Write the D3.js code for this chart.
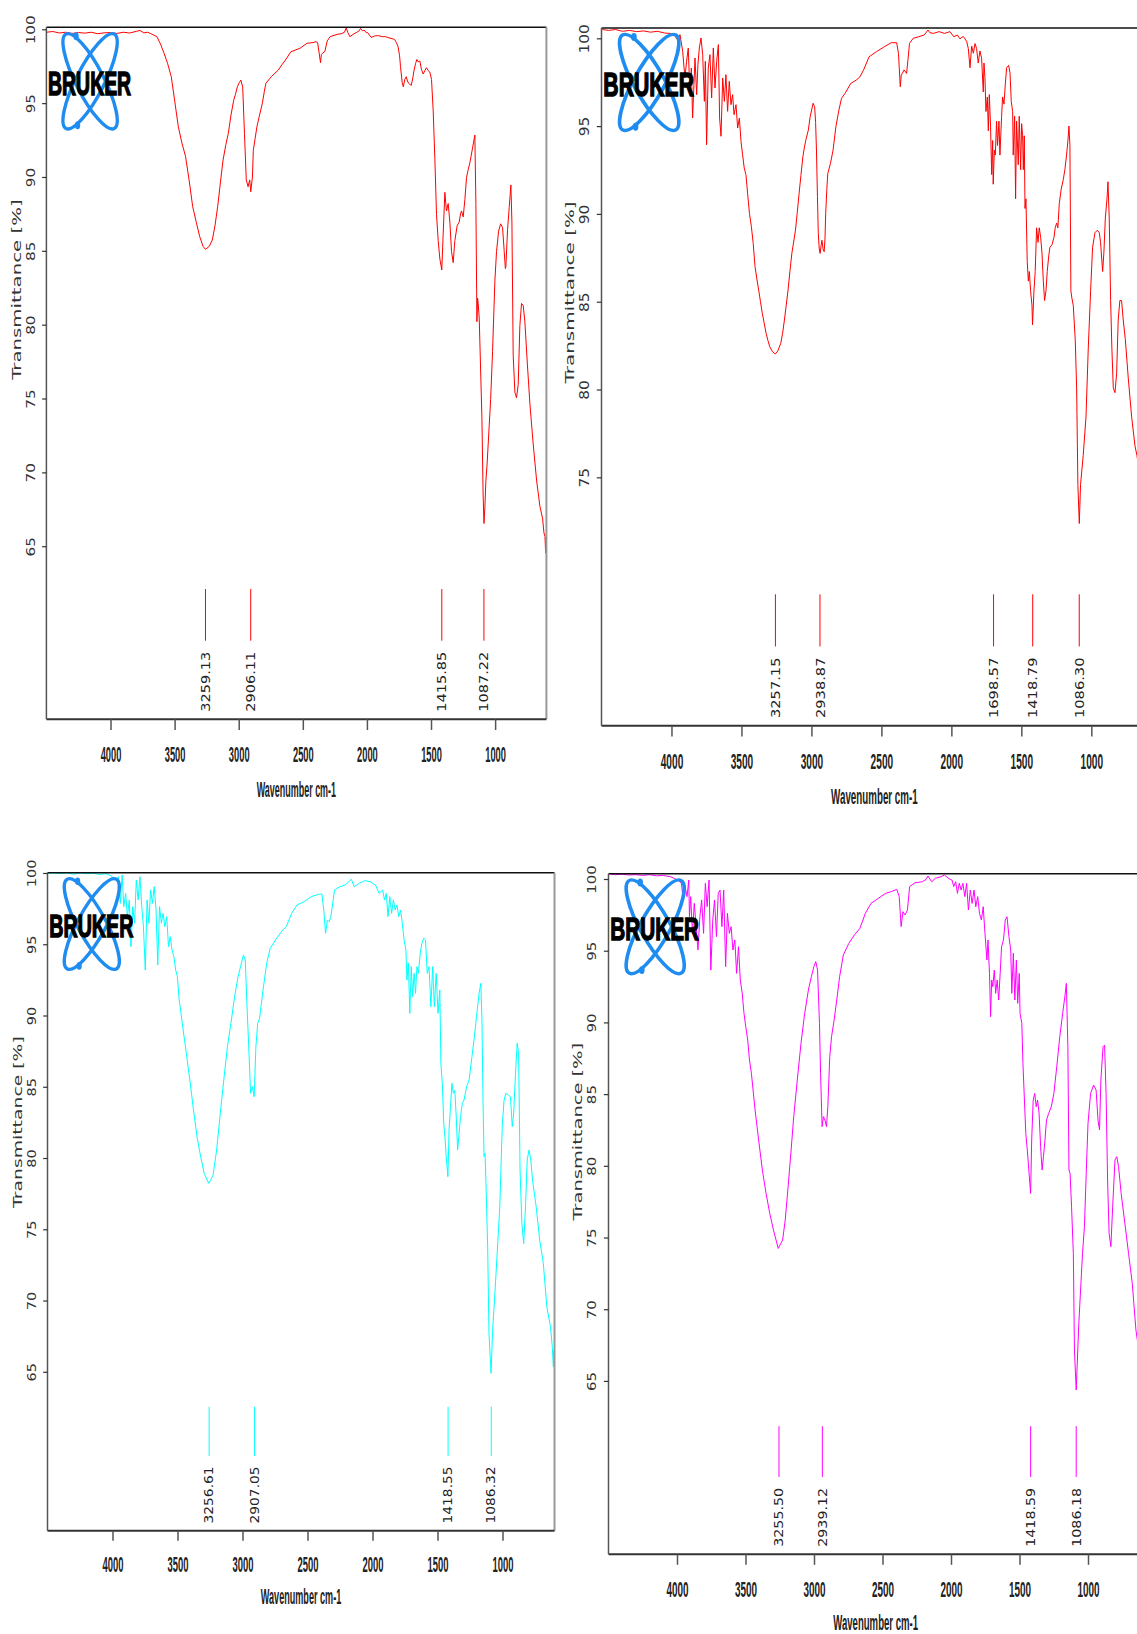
<!DOCTYPE html>
<html><head><meta charset="utf-8">
<script src="https://cdn.jsdelivr.net/npm/d3@7"></script>
<style>body{margin:0;background:#fff;} svg{display:block;}</style>
</head><body>
<svg id="chart" width="1137" height="1634"></svg>
<script>
// ---------- data ----------
const xTickValues = [4000, 3500, 3000, 2500, 2000, 1500, 1000];
const yTicksLow = [65, 70, 75, 80, 85, 90, 95, 100];
const yTicksHigh = [75, 80, 85, 90, 95, 100];
const xLabel = "Wavenumber cm-1";
const yLabel = "Transmittance [%]";
const logoText = "BRUKER";

const peaksA = [3259.13, 2906.11, 1415.85, 1087.22];
const peaksB = [3257.15, 2938.87, 1698.57, 1418.79, 1086.30];
const peaksC = [3256.61, 2907.05, 1418.55, 1086.32];
const peaksD = [3255.50, 2939.12, 1418.59, 1086.18];

const spectrumA = [[4500,99.8],[4450,99.85],[4400,99.75],[4350,99.8],[4300,99.72],[4250,99.78],[4200,99.74],[4150,99.8],[4100,99.7],[4050,99.76],[4000,99.78],[3950,99.72],[3900,99.8],[3850,99.75],[3800,99.86],[3770,99.92],[3740,99.76],[3710,99.8],[3690,99.72],[3660,99.6],[3638,99.5],[3610,99.0],[3582,98.37],[3555,97.7],[3526,96.79],[3500,95.2],[3471,93.4],[3443,92.3],[3415,91.4],[3387,89.8],[3359,88.0],[3330,86.9],[3304,85.96],[3278,85.3],[3259,85.1],[3230,85.3],[3206,85.73],[3185,86.7],[3164,88.0],[3143,89.6],[3122,91.15],[3100,92.2],[3081,92.95],[3060,94.2],[3039,95.2],[3025,95.6],[3011,96.1],[2995,96.4],[2983,96.56],[2969,96.1],[2955,92.95],[2941,89.8],[2927,89.34],[2920,89.6],[2914,89.8],[2906,89.0],[2893,90.0],[2886,91.8],[2872,92.6],[2858,93.4],[2840,94.1],[2816,94.98],[2800,95.8],[2788,96.34],[2746,96.79],[2691,97.24],[2663,97.6],[2635,97.92],[2593,98.48],[2523,98.71],[2468,99.05],[2420,99.1],[2398,99.16],[2385,99.1],[2376,98.6],[2362,97.74],[2355,98.3],[2348,98.37],[2328,98.5],[2310,99.2],[2287,99.5],[2231,99.66],[2200,99.7],[2175,99.8],[2161,100.1],[2150,99.8],[2133,99.5],[2100,99.7],[2078,99.8],[2060,99.9],[2050,100.06],[2035,99.9],[2022,99.95],[2008,99.8],[1994,99.77],[1980,99.6],[1966,99.45],[1940,99.55],[1911,99.57],[1880,99.5],[1855,99.5],[1820,99.4],[1785,99.32],[1770,99.1],[1757,98.82],[1745,98.2],[1738,97.47],[1725,96.4],[1716,96.11],[1705,96.6],[1693,96.79],[1684,96.5],[1674,96.34],[1654,96.2],[1640,96.8],[1632,97.24],[1620,97.7],[1610,97.96],[1600,97.8],[1587,97.85],[1575,97.3],[1561,96.97],[1548,97.2],[1535,97.4],[1522,97.2],[1509,97.1],[1496,96.6],[1483,94.47],[1470,91.2],[1457,87.45],[1444,85.7],[1431,84.45],[1416,83.7],[1405,86.2],[1392,88.96],[1385,88.2],[1379,87.7],[1366,88.2],[1353,86.95],[1340,84.95],[1327,84.2],[1314,85.7],[1296,86.7],[1280,86.95],[1270,87.5],[1262,87.7],[1249,87.3],[1236,88.46],[1223,89.96],[1210,90.5],[1197,90.96],[1176,91.96],[1165,92.5],[1158,92.84],[1150,88.2],[1142,80.2],[1137,81.8],[1132,81.44],[1124,80.44],[1113,76.93],[1103,73.67],[1094,68.67],[1087,66.54],[1080,67.6],[1072,69.42],[1063,70.5],[1054,71.92],[1035,74.93],[1020,78.18],[1002,82.94],[989,84.95],[973,86.33],[957,86.83],[942,86.58],[929,84.95],[920,83.8],[916,83.95],[903,86.45],[890,87.95],[877,89.46],[869,86.95],[859,77.93],[846,75.43],[833,75.05],[820,75.93],[807,79.94],[794,81.44],[781,81.3],[768,80.2],[749,77.4],[729,74.68],[703,71.92],[676,69.42],[650,67.67],[630,66.9],[619,65.9],[611,65.66],[606,64.53],[603,65.6],[600,65.0]];

const spectrumB = [[4494,100.5],[4450,100.45],[4400,100.5],[4350,100.4],[4300,100.45],[4250,100.38],[4200,100.42],[4150,100.35],[4100,100.4],[4050,100.3],[4008,100.28],[3981,100.19],[3955,99.9],[3939,100.21],[3920,99.26],[3904,97.74],[3892,98.69],[3880,99.45],[3868,96.79],[3858,98.31],[3849,95.46],[3832,98.88],[3820,96.79],[3811,98.5],[3801,99.45],[3789,100.02],[3777,99.07],[3765,96.41],[3758,98.69],[3749,93.94],[3737,98.31],[3725,99.07],[3713,96.6],[3701,99.45],[3689,97.17],[3677,98.69],[3665,99.64],[3656,95.46],[3646,94.42],[3634,97.74],[3622,96.41],[3611,97.93],[3599,95.84],[3587,97.55],[3575,96.22],[3563,96.79],[3553,95.65],[3539,96.22],[3527,94.89],[3515,95.46],[3503,94.13],[3492,93.37],[3480,92.61],[3468,92.24],[3456,91.17],[3443,90.03],[3429,89.27],[3416,88.32],[3403,87.0],[3390,86.3],[3377,85.67],[3364,85.0],[3351,84.34],[3338,83.8],[3324,83.2],[3311,82.8],[3298,82.44],[3278,82.15],[3258,82.02],[3240,82.2],[3219,82.63],[3206,83.2],[3193,83.96],[3180,84.8],[3167,85.67],[3154,86.7],[3140,87.75],[3127,88.4],[3114,89.08],[3101,90.1],[3088,91.17],[3075,92.2],[3061,93.26],[3050,93.8],[3040,94.2],[3022,94.78],[3009,95.54],[2988,96.3],[2977,96.1],[2970,95.2],[2964,93.64],[2957,91.0],[2951,88.9],[2944,88.0],[2938,87.75],[2931,88.2],[2925,88.5],[2917,88.0],[2909,87.85],[2903,88.6],[2898,90.03],[2890,91.4],[2883,92.3],[2864,92.88],[2846,93.6],[2825,94.97],[2804,95.9],[2785,96.58],[2759,96.87],[2719,97.43],[2680,97.62],[2654,97.8],[2627,98.2],[2588,98.95],[2535,99.24],[2483,99.5],[2430,99.75],[2391,99.75],[2378,99.14],[2365,97.24],[2358,97.9],[2351,98.0],[2338,98.2],[2320,98.0],[2310,98.8],[2299,99.71],[2273,100.0],[2233,100.09],[2194,100.19],[2167,100.47],[2154,100.32],[2128,100.28],[2088,100.38],[2049,100.28],[2010,100.38],[1983,100.09],[1957,100.19],[1939,99.97],[1915,100.11],[1891,99.83],[1879,99.42],[1867,98.32],[1855,99.56],[1843,99.15],[1831,99.7],[1820,99.42],[1808,98.59],[1796,99.28],[1784,98.87],[1772,96.94],[1767,98.59],[1760,97.76],[1753,95.83],[1743,96.66],[1736,94.73],[1729,96.8],[1720,95.0],[1712,92.24],[1705,94.18],[1701,91.69],[1693,93.63],[1686,93.35],[1677,95.28],[1670,93.9],[1660,95.28],[1653,93.35],[1641,95.56],[1634,96.66],[1624,96.25],[1615,97.35],[1605,98.32],[1591,98.46],[1581,98.04],[1572,96.39],[1562,95.83],[1558,93.35],[1548,95.56],[1541,90.86],[1534,95.28],[1522,92.8],[1515,95.56],[1505,92.52],[1498,95.14],[1491,94.45],[1486,92.52],[1479,94.45],[1474,90.31],[1467,90.86],[1458,87.28],[1450,86.17],[1443,86.72],[1434,85.62],[1424,84.79],[1420,83.69],[1410,85.62],[1401,86.72],[1391,89.21],[1381,88.38],[1372,89.21],[1362,88.66],[1353,87.83],[1343,86.17],[1334,85.07],[1324,85.62],[1315,86.72],[1305,87.55],[1296,88.1],[1281,88.24],[1267,88.66],[1258,89.21],[1248,89.48],[1239,89.21],[1229,90.59],[1215,91.42],[1200,91.97],[1189,92.52],[1177,93.35],[1167,94.18],[1160,95.0],[1153,93.9],[1146,85.62],[1139,85.21],[1129,84.79],[1115,82.86],[1105,80.1],[1096,74.58],[1086,72.37],[1077,74.58],[1058,76.24],[1038,78.44],[1022,82.31],[1005,85.62],[991,88.1],[974,88.93],[957,89.07],[943,88.93],[934,88.38],[919,86.72],[910,87.83],[900,89.76],[888,90.86],[881,91.83],[872,89.76],[862,85.07],[853,82.31],[843,80.1],[831,79.82],[819,80.93],[808,83.96],[796,85.07],[784,85.07],[772,83.96],[757,82.86],[736,80.65],[712,78.44],[688,76.79],[674,76.24],[650,75.0],[620,73.5],[600,72.5]];

const spectrumC = [[4495,99.98],[4450,100.0],[4400,99.95],[4350,100.0],[4300,99.92],[4250,100.0],[4200,99.95],[4150,99.98],[4100,99.9],[4050,99.95],[4010,99.8],[3981,99.5],[3954,99.74],[3940,97.87],[3926,99.86],[3913,97.64],[3899,98.57],[3885,96.94],[3871,98.11],[3858,94.83],[3844,97.64],[3830,96.47],[3817,99.51],[3803,98.11],[3789,99.74],[3775,97.64],[3762,96.23],[3748,93.19],[3734,98.11],[3720,96.47],[3707,98.81],[3693,97.87],[3679,99.04],[3665,97.4],[3652,93.54],[3638,97.64],[3624,96.47],[3611,97.17],[3597,96.23],[3583,96.94],[3569,94.83],[3556,95.53],[3542,94.6],[3528,94.13],[3514,93.19],[3501,92.73],[3487,91.09],[3473,90.15],[3460,89.22],[3446,88.28],[3432,87.35],[3405,85.47],[3377,83.37],[3350,81.5],[3322,80.1],[3295,78.92],[3259,78.22],[3226,78.81],[3199,80.56],[3171,83.13],[3144,85.47],[3116,87.81],[3089,89.45],[3061,91.32],[3034,92.73],[3015,93.43],[2993,94.25],[2979,93.9],[2965,90.62],[2952,87.81],[2938,84.54],[2924,85.0],[2910,84.3],[2897,87.81],[2883,89.45],[2869,89.8],[2842,91.79],[2814,93.66],[2787,94.71],[2746,95.3],[2691,96.0],[2663,96.23],[2622,97.17],[2581,97.76],[2526,97.99],[2471,98.34],[2416,98.5],[2389,98.53],[2375,97.4],[2361,95.77],[2347,96.7],[2334,96.58],[2320,96.94],[2292,98.81],[2251,99.04],[2210,99.16],[2183,99.39],[2163,99.56],[2141,99.04],[2100,99.28],[2059,99.46],[2018,99.39],[1977,99.16],[1949,98.57],[1922,98.81],[1908,98.11],[1894,98.57],[1881,96.94],[1867,98.34],[1853,97.17],[1839,98.11],[1826,97.4],[1812,97.76],[1798,96.94],[1784,97.4],[1771,96.47],[1757,95.3],[1743,94.6],[1735,92.49],[1724,93.66],[1713,90.15],[1702,93.43],[1691,91.32],[1680,92.96],[1669,91.56],[1658,93.43],[1647,92.96],[1633,94.36],[1620,95.07],[1606,95.42],[1592,95.3],[1579,92.96],[1565,93.43],[1551,90.62],[1537,93.43],[1524,90.62],[1510,92.96],[1496,90.15],[1482,91.79],[1474,86.64],[1463,85.24],[1452,82.43],[1441,81.26],[1433,80.09],[1420,78.69],[1411,81.97],[1400,83.6],[1389,85.24],[1378,84.54],[1367,84.77],[1356,82.9],[1345,80.56],[1334,81.73],[1323,82.9],[1309,83.84],[1296,84.07],[1276,85.01],[1257,85.47],[1235,87.11],[1216,88.52],[1200,89.92],[1180,91.56],[1167,92.26],[1158,89.68],[1150,84.07],[1142,80.09],[1134,80.33],[1125,77.52],[1114,73.78],[1104,67.7],[1088,64.89],[1076,67.9],[1057,70.74],[1035,74.25],[1021,76.58],[1002,82.2],[988,84.07],[974,84.54],[955,84.42],[939,84.3],[925,82.2],[914,83.13],[900,85.94],[887,88.05],[876,87.35],[865,79.16],[851,75.4],[837,74.0],[823,76.58],[810,79.86],[796,80.56],[782,79.86],[769,78.46],[741,76.58],[714,74.25],[686,72.61],[659,69.57],[631,68.17],[617,66.76],[609,65.36],[604,66.5],[600,65.5]];

const spectrumD = [[4491,100.35],[4450,100.3],[4400,100.33],[4350,100.28],[4300,100.3],[4250,100.25],[4200,100.3],[4150,100.22],[4100,100.25],[4075,100.2],[4048,100.16],[4021,100.05],[3994,99.93],[3968,99.7],[3954,98.54],[3941,99.47],[3927,98.77],[3914,99.93],[3909,97.37],[3900,98.77],[3887,96.21],[3874,98.3],[3860,96.68],[3847,95.05],[3833,97.37],[3820,98.54],[3806,96.21],[3793,99.7],[3780,98.07],[3766,99.93],[3753,93.65],[3739,97.14],[3726,98.54],[3712,95.98],[3699,99.0],[3686,99.23],[3672,96.68],[3659,99.23],[3645,93.89],[3632,97.61],[3618,96.21],[3605,96.68],[3592,95.05],[3578,95.75],[3565,93.42],[3551,95.28],[3538,92.96],[3524,92.03],[3511,90.63],[3498,89.7],[3484,88.77],[3471,87.38],[3457,86.45],[3430,83.89],[3404,81.8],[3377,79.71],[3350,78.08],[3323,76.69],[3296,75.52],[3261,74.24],[3229,74.83],[3210,76.22],[3189,78.54],[3167,81.1],[3148,83.43],[3122,85.98],[3095,88.54],[3068,90.63],[3041,92.26],[3019,93.19],[3001,93.89],[2987,94.24],[2974,93.65],[2960,89.94],[2952,86.45],[2941,82.73],[2931,83.43],[2920,83.19],[2909,82.73],[2899,84.12],[2885,87.61],[2872,89.0],[2853,90.17],[2834,91.56],[2813,93.19],[2786,94.7],[2746,95.51],[2705,96.1],[2665,96.56],[2625,97.61],[2584,98.3],[2531,98.65],[2477,99.0],[2437,99.12],[2396,99.28],[2378,98.77],[2364,96.68],[2351,97.72],[2335,97.49],[2318,97.84],[2302,99.47],[2262,99.74],[2208,99.81],[2181,99.98],[2168,100.21],[2141,99.81],[2114,100.05],[2074,100.16],[2047,100.28],[2020,100.05],[1993,99.93],[1980,99.47],[1966,99.81],[1953,99.0],[1940,99.7],[1926,99.23],[1913,99.7],[1899,98.77],[1886,99.7],[1873,97.84],[1859,99.23],[1846,98.3],[1832,99.23],[1819,98.07],[1805,98.77],[1792,97.61],[1778,97.14],[1765,98.07],[1752,96.21],[1738,94.35],[1730,95.75],[1719,93.42],[1711,90.4],[1703,92.96],[1695,92.49],[1684,93.65],[1674,92.03],[1663,92.96],[1652,91.56],[1641,93.42],[1631,95.28],[1617,95.75],[1604,97.14],[1591,97.37],[1577,95.98],[1564,95.05],[1556,92.03],[1545,94.82],[1534,91.56],[1523,94.35],[1513,91.33],[1502,93.42],[1496,90.63],[1483,89.94],[1475,87.15],[1464,84.59],[1454,82.26],[1443,81.1],[1432,79.71],[1419,78.08],[1411,81.8],[1400,84.59],[1389,85.05],[1378,84.12],[1368,84.59],[1357,83.66],[1346,81.33],[1335,79.71],[1325,80.64],[1314,81.8],[1303,83.19],[1287,83.66],[1268,84.12],[1249,85.05],[1228,86.91],[1206,89.0],[1185,90.63],[1169,91.79],[1158,92.72],[1147,88.31],[1139,79.71],[1131,79.48],[1120,77.15],[1107,73.9],[1099,67.16],[1086,64.37],[1067,69.02],[1040,73.9],[1026,75.76],[1013,79.48],[1000,82.96],[981,85.05],[959,85.63],[941,85.29],[927,83.19],[916,82.5],[906,85.98],[890,88.31],[879,88.42],[868,85.05],[857,79.01],[846,75.29],[833,74.36],[820,77.15],[803,80.41],[790,80.64],[777,79.94],[758,78.08],[731,75.99],[704,73.9],[677,71.81],[650,68.55],[620,66.5],[600,65.5]];

const colorA = "#ff0000", colorB = "#ff0000", colorC = "#00ffff", colorD = "#ff00ff";

// ---------- layout ----------
const panels = [
  {left: 46.4, top: 27.3, width: 500, height: 692, yMin: 53.28, yMax: 100.135, data: spectrumA, peaks: peaksA, color: colorA, yTicks: yTicksLow},
  {left: 601.5, top: 28, width: 545.8, height: 697.7, yMin: 60.855, yMax: 100.587, data: spectrumB, peaks: peaksB, color: colorB, yTicks: yTicksHigh},
  {left: 47.5, top: 872.7, width: 507, height: 658, yMin: 53.85, yMax: 100.02, data: spectrumC, peaks: peaksC, color: colorC, yTicks: yTicksLow},
  {left: 608.5, top: 873.7, width: 534.3, height: 680.6, yMin: 52.91, yMax: 100.37, data: spectrumD, peaks: peaksD, color: colorD, yTicks: yTicksLow}
];
const wideFont = "'DejaVu Sans', Verdana, sans-serif";
const narrowFont = "'Liberation Sans Narrow', 'Liberation Sans', Arial, sans-serif";
const textColor = "#222";
const logoBlue = "#1e8cf0";

const svg = d3.select("#chart");
const defs = svg.append("defs");

panels.forEach((p, i) => {
  const sx = p.width / 500, sy = p.height / 692;
  const bottom = p.top + p.height, right = p.left + p.width;
  const x = d3.scaleLinear().domain([4500, 600]).range([p.left, right]);
  const y = d3.scaleLinear().domain([p.yMin, p.yMax]).range([bottom, p.top]);
  const g = svg.append("g");

  defs.append("clipPath").attr("id", "clip" + i).append("rect")
    .attr("x", p.left).attr("y", p.top - 1).attr("width", p.width).attr("height", p.height + 1);

  // spectrum
  g.append("path").datum(p.data)
    .attr("clip-path", `url(#clip${i})`)
    .attr("fill", "none").attr("stroke", p.color).attr("stroke-width", 1)
    .attr("stroke-linejoin", "round")
    .attr("d", d3.line().x(d => x(d[0])).y(d => y(d[1])));

  // frame
  g.append("line").attr("x1", p.left).attr("x2", right).attr("y1", p.top).attr("y2", p.top)
    .attr("stroke", "#111").attr("stroke-width", 1.6);
  g.append("line").attr("x1", right).attr("x2", right).attr("y1", p.top).attr("y2", bottom)
    .attr("stroke", "#999").attr("stroke-width", 2);
  g.append("line").attr("x1", p.left).attr("x2", right).attr("y1", bottom).attr("y2", bottom)
    .attr("stroke", "#333").attr("stroke-width", 2);
  g.append("line").attr("x1", p.left).attr("x2", p.left).attr("y1", p.top).attr("y2", bottom)
    .attr("stroke", "#555").attr("stroke-width", 1.5);

  // x axis
  const xAxis = d3.axisBottom(x).tickValues(xTickValues).tickSize(10.7 * sy).tickSizeOuter(0)
    .tickFormat(d3.format("d"));
  const gx = g.append("g").attr("transform", `translate(0,${bottom})`).call(xAxis);
  gx.select(".domain").remove();
  gx.selectAll(".tick line").attr("stroke", "#555").attr("stroke-width", 1.5);
  const xFs = 12;
  gx.selectAll(".tick text")
    .attr("y", null).attr("dy", null)
    .attr("transform", `translate(0,${43 * sy}) scale(1,${(16 * sy) / (0.716 * xFs)})`)
    .attr("font-family", narrowFont).attr("font-size", xFs).attr("font-weight", "bold")
    .attr("textLength", 20.7 * sx).attr("lengthAdjust", "spacingAndGlyphs")
    .attr("text-anchor", "middle").attr("fill", textColor);

  // y axis
  const yAxis = d3.axisLeft(y).tickValues(p.yTicks).tickSize(4.3 * sx).tickSizeOuter(0)
    .tickFormat(d3.format("d"));
  const gy = g.append("g").attr("transform", `translate(${p.left},0)`).call(yAxis);
  gy.select(".domain").remove();
  gy.selectAll(".tick line").attr("stroke", "#333").attr("stroke-width", 1.2);
  gy.selectAll(".tick text")
    .attr("x", null).attr("dy", null)
    .attr("transform", `translate(${(-15.8 + 4.45) * sx},0) rotate(-90)`)
    .attr("font-family", wideFont).attr("font-size", 12.2 * sx)
    .attr("textLength", d => String(d).length * 9.7 * sy).attr("lengthAdjust", "spacingAndGlyphs")
    .attr("text-anchor", "middle").attr("fill", "#333");

  // axis titles
  g.append("text")
    .attr("transform", `translate(${p.left - 25 * sx},${p.top + 0.379 * p.height}) rotate(-90)`)
    .attr("font-family", wideFont).attr("font-size", 12 * sx)
    .attr("textLength", 0.261 * p.height).attr("lengthAdjust", "spacingAndGlyphs")
    .attr("text-anchor", "middle").attr("fill", "#333").text(yLabel);
  const wFs = 12;
  g.append("text")
    .attr("transform", `translate(${p.left + p.width / 2},${bottom + 77.4 * sy}) scale(1,${(16.2 * sy) / (0.716 * wFs)})`)
    .attr("font-family", narrowFont).attr("font-size", wFs).attr("font-weight", "bold")
    .attr("textLength", 79.3 * sx).attr("lengthAdjust", "spacingAndGlyphs")
    .attr("text-anchor", "middle").attr("fill", textColor).text(xLabel);

  // peak markers
  const pk = g.append("g").selectAll("g").data(p.peaks).join("g");
  pk.append("line")
    .attr("x1", d => x(d)).attr("x2", d => x(d))
    .attr("y1", bottom - 130.3 * sy).attr("y2", bottom - 78.6 * sy)
    .attr("stroke", p.color).attr("stroke-width", 1);
  pk.append("text")
    .attr("transform", d => `translate(${x(d) + 4.15 * sx},${bottom - 7.6 * sy}) rotate(-90)`)
    .attr("font-family", wideFont).attr("font-size", 11.4 * sx)
    .attr("textLength", 60 * sy).attr("lengthAdjust", "spacingAndGlyphs")
    .attr("text-anchor", "start").attr("fill", textColor)
    .text(d => d.toFixed(2));

  // logo
  const logo = g.append("g")
    .attr("transform", `translate(${p.left + 43.7 * sx},${p.top + 54 * sy}) scale(${sx},${sy})`);
  [27, -27].forEach(a => {
    logo.append("ellipse").attr("rx", 14).attr("ry", 53).attr("transform", `rotate(${a})`)
      .attr("fill", "none").attr("stroke", logoBlue).attr("stroke-width", 3.4);
  });
  logo.append("ellipse").attr("cx", -14).attr("cy", -45).attr("rx", 2.6).attr("ry", 4).attr("fill", logoBlue);
  logo.append("ellipse").attr("cx", -12.5).attr("cy", 44).attr("rx", 2.6).attr("ry", 4).attr("fill", logoBlue);
  const bFs = 20;
  logo.append("text")
    .attr("transform", `translate(-0.5,13.2) scale(1,${23.5 / (0.716 * bFs)})`)
    .attr("font-family", "'Liberation Sans', Arial, sans-serif").attr("font-weight", "bold")
    .attr("font-size", bFs).attr("textLength", 83).attr("lengthAdjust", "spacingAndGlyphs")
    .attr("text-anchor", "middle").attr("fill", "#000").attr("stroke", "#000").attr("stroke-width", 0.9)
    .text(logoText);
});
</script>
</body></html>
